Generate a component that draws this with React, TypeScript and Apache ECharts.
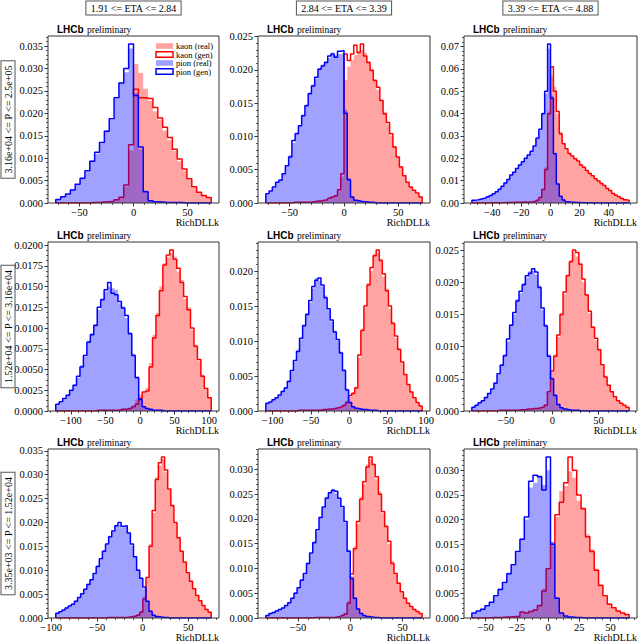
import React, { useEffect, useRef } from "react";
import * as echarts from "echarts";

// ---------- labels ----------
const etaLabels = ["1.91 <= ETA <= 2.84", "2.84 <= ETA <= 3.39", "3.39 <= ETA <= 4.88"];
const pLabels = ["3.16e+04 <= P <= 2.5e+05", "1.52e+04 <= P <= 3.16e+04", "3.35e+03 <= P <= 1.52e+04"];
const legendNames = ["kaon (real)", "kaon (gen)", "pion (real)", "pion (gen)"];
const xAxisTitle = "RichDLLk";

// ---------- histogram bin edges (start, width) ----------
const binStart = [-72, -72, -54, -122, -109, -87, -95, -81, -61];
const binWidth = [4.5, 3, 2, 5, 4, 3.4, 3.4, 3, 3.5];

// ---------- row 1 ----------
const pionGen11 = [0.0008,0.0014,0.0020,0.0029,0.0042,0.0055,0.0072,0.0093,0.0113,0.0135,0.0160,0.0188,0.0235,0.0268,0.0300,0.0355,0.0240,0.0125,0.0025,0.0005,0.0003,0.0002,0.0001,0.0001,0.0001,0.0001,0,0,0,0,0,0];
const pionReal11 = [0.0007,0.0013,0.0019,0.0030,0.0040,0.0054,0.0070,0.0095,0.0110,0.0133,0.0162,0.0185,0.0232,0.0270,0.0292,0.0345,0.0245,0.0120,0.0028,0.0006,0.0003,0.0002,0.0001,0.0001,0.0001,0,0,0,0,0,0,0];
const kaonGen11 = [0,0,0,0,0,0,0,0.0001,0.0001,0.0002,0.0003,0.0004,0.0007,0.0013,0.0040,0.0130,0.0254,0.0235,0.0235,0.0233,0.0213,0.0190,0.0169,0.0146,0.0120,0.0098,0.0076,0.0054,0.0036,0.0024,0.0017,0.0012];
const kaonReal11 = [0,0,0,0,0,0,0,0.0001,0.0001,0.0002,0.0003,0.0004,0.0006,0.0012,0.0036,0.0118,0.0310,0.0290,0.0255,0.0228,0.0205,0.0185,0.0162,0.0140,0.0116,0.0093,0.0072,0.0052,0.0034,0.0023,0.0016,0.0011];

const pionGen12 = [0.0014,0.0018,0.0024,0.0031,0.0034,0.0044,0.0056,0.0069,0.0094,0.0104,0.0116,0.0131,0.0146,0.0164,0.0176,0.0189,0.0201,0.0206,0.0211,0.0221,0.0224,0.0219,0.0228,0.0229,0.0135,0.0035,0.0009,0.0004,0.0003,0.0002,0.0002,0.0001,0.0001,0,0,0,0,0,0,0,0,0,0,0,0,0,0,0];
const pionReal12 = [0.0012,0.0017,0.0023,0.0030,0.0036,0.0045,0.0055,0.0072,0.0090,0.0106,0.0117,0.0133,0.0148,0.0166,0.0178,0.0187,0.0203,0.0208,0.0213,0.0218,0.0226,0.0222,0.0224,0.0225,0.0140,0.0038,0.0010,0.0004,0.0003,0.0002,0.0002,0.0001,0.0001,0,0,0,0,0,0,0,0,0,0,0,0,0,0,0];
const kaonGen12 = [0,0,0,0,0,0,0,0,0.0001,0.0001,0.0001,0.0001,0.0001,0.0001,0.0002,0.0003,0.0003,0.0004,0.0005,0.0007,0.0009,0.0011,0.0020,0.0044,0.0224,0.0214,0.0224,0.0237,0.0226,0.0239,0.0221,0.0211,0.0199,0.0184,0.0174,0.0154,0.0134,0.0121,0.0104,0.0084,0.0069,0.0054,0.0041,0.0031,0.0024,0.0019,0.0015,0.0009];
const kaonReal12 = [0,0,0,0,0,0,0,0,0.0001,0.0001,0.0001,0.0001,0.0001,0.0001,0.0002,0.0003,0.0003,0.0004,0.0005,0.0006,0.0008,0.0011,0.0018,0.0040,0.0185,0.0205,0.0215,0.0222,0.0228,0.0230,0.0226,0.0213,0.0202,0.0186,0.0170,0.0155,0.0137,0.0118,0.0101,0.0086,0.0070,0.0055,0.0042,0.0031,0.0024,0.0018,0.0014,0.0010];

const pionGen13 = [0.0012,0.0014,0.0017,0.0020,0.0023,0.0028,0.0034,0.0041,0.0050,0.0061,0.0075,0.0090,0.0105,0.0125,0.0138,0.0155,0.0170,0.0185,0.0200,0.0215,0.0232,0.0255,0.0290,0.0330,0.0400,0.0500,0.0712,0.0470,0.0220,0.0085,0.0030,0.0013,0.0006,0.0004,0.0003,0.0002,0.0002,0.0001,0.0001,0.0001,0.0001,0,0,0,0,0,0,0,0,0,0,0,0,0];
const pionReal13 = [0.0011,0.0014,0.0016,0.0020,0.0024,0.0028,0.0033,0.0042,0.0049,0.0062,0.0074,0.0091,0.0104,0.0124,0.0140,0.0153,0.0172,0.0184,0.0202,0.0213,0.0234,0.0252,0.0292,0.0325,0.0405,0.0490,0.0690,0.0480,0.0225,0.0088,0.0032,0.0014,0.0007,0.0004,0.0003,0.0002,0.0002,0.0001,0.0001,0.0001,0.0001,0,0,0,0,0,0,0,0,0,0,0,0,0];
const kaonGen13 = [0,0,0,0,0,0,0.0001,0.0001,0.0001,0.0001,0.0001,0.0002,0.0002,0.0002,0.0003,0.0003,0.0003,0.0004,0.0004,0.0005,0.0006,0.0008,0.0012,0.0025,0.0060,0.0150,0.0400,0.0610,0.0500,0.0410,0.0310,0.0265,0.0243,0.0222,0.0210,0.0198,0.0188,0.0170,0.0160,0.0146,0.0132,0.0122,0.0109,0.0098,0.0087,0.0078,0.0065,0.0056,0.0043,0.0035,0.0028,0.0020,0.0015,0.0012];
const kaonReal13 = [0,0,0,0,0,0,0.0001,0.0001,0.0001,0.0001,0.0001,0.0002,0.0002,0.0002,0.0003,0.0003,0.0003,0.0004,0.0004,0.0005,0.0006,0.0008,0.0013,0.0027,0.0065,0.0160,0.0410,0.0570,0.0520,0.0400,0.0320,0.0270,0.0240,0.0225,0.0208,0.0200,0.0185,0.0172,0.0158,0.0147,0.0130,0.0123,0.0107,0.0099,0.0085,0.0079,0.0064,0.0057,0.0042,0.0036,0.0027,0.0021,0.0014,0.0012];

// ---------- row 2 ----------
const pionGen21 = [0.0008,0.0011,0.0015,0.0019,0.0025,0.0031,0.0042,0.0053,0.0067,0.0083,0.0092,0.0103,0.0125,0.0134,0.0146,0.0155,0.0142,0.0140,0.0132,0.0124,0.0115,0.0093,0.0067,0.0040,0.0014,0.0005,0.0003,0.0002,0.0001,0.0001,0.0001,0,0,0,0,0,0,0,0,0,0,0,0,0,0];
const pionReal21 = [0.0007,0.0010,0.0014,0.0020,0.0024,0.0032,0.0040,0.0055,0.0065,0.0085,0.0094,0.0105,0.0122,0.0136,0.0144,0.0150,0.0148,0.0146,0.0130,0.0126,0.0112,0.0095,0.0069,0.0042,0.0016,0.0006,0.0003,0.0002,0.0001,0.0001,0.0001,0,0,0,0,0,0,0,0,0,0,0,0,0,0];
const kaonGen21 = [0,0,0,0,0,0,0,0,0,0,0,0,0.0001,0.0001,0.0001,0.0001,0.0001,0.0001,0.0001,0.0002,0.0002,0.0003,0.0005,0.0008,0.0015,0.0023,0.0024,0.0053,0.0088,0.0115,0.0145,0.0176,0.0188,0.0194,0.0183,0.0172,0.0155,0.0138,0.0122,0.0100,0.0078,0.0062,0.0042,0.0027,0.0016];
const kaonReal21 = [0,0,0,0,0,0,0,0,0,0,0,0,0.0001,0.0001,0.0001,0.0001,0.0001,0.0001,0.0002,0.0002,0.0003,0.0004,0.0007,0.0014,0.0020,0.0022,0.0028,0.0058,0.0092,0.0118,0.0150,0.0178,0.0185,0.0190,0.0186,0.0168,0.0158,0.0135,0.0125,0.0098,0.0080,0.0060,0.0044,0.0026,0.0017];

const pionGen22 = [0.0011,0.0013,0.0016,0.0019,0.0023,0.0028,0.0033,0.0042,0.0058,0.0072,0.0085,0.0104,0.0122,0.0138,0.0158,0.0178,0.0187,0.0190,0.0180,0.0162,0.0146,0.0130,0.0113,0.0102,0.0083,0.0058,0.0030,0.0012,0.0006,0.0004,0.0003,0.0002,0.0002,0.0001,0.0001,0.0001,0,0,0,0,0,0,0,0,0,0,0,0,0,0,0];
const pionReal22 = [0.0010,0.0013,0.0017,0.0020,0.0022,0.0029,0.0034,0.0044,0.0056,0.0070,0.0088,0.0102,0.0124,0.0140,0.0155,0.0175,0.0190,0.0186,0.0178,0.0165,0.0144,0.0128,0.0115,0.0100,0.0085,0.0060,0.0032,0.0013,0.0007,0.0004,0.0003,0.0002,0.0002,0.0001,0.0001,0.0001,0,0,0,0,0,0,0,0,0,0,0,0,0,0,0];
const kaonGen22 = [0,0,0,0,0,0,0,0,0,0,0.0001,0.0001,0.0001,0.0001,0.0001,0.0001,0.0001,0.0001,0.0002,0.0002,0.0003,0.0003,0.0004,0.0005,0.0006,0.0008,0.0012,0.0022,0.0025,0.0033,0.0080,0.0115,0.0150,0.0180,0.0205,0.0222,0.0230,0.0215,0.0196,0.0172,0.0150,0.0125,0.0107,0.0088,0.0070,0.0052,0.0038,0.0027,0.0019,0.0012,0.0007];
const kaonReal22 = [0,0,0,0,0,0,0,0,0,0,0.0001,0.0001,0.0001,0.0001,0.0001,0.0001,0.0001,0.0002,0.0002,0.0002,0.0003,0.0003,0.0004,0.0005,0.0007,0.0009,0.0015,0.0020,0.0027,0.0035,0.0076,0.0118,0.0148,0.0183,0.0200,0.0225,0.0226,0.0218,0.0192,0.0175,0.0146,0.0128,0.0104,0.0090,0.0068,0.0053,0.0037,0.0028,0.0018,0.0012,0.0008];

const pionGen23 = [0.0006,0.0009,0.0013,0.0016,0.0021,0.0027,0.0034,0.0043,0.0058,0.0071,0.0086,0.0112,0.0133,0.0153,0.0171,0.0186,0.0196,0.0210,0.0214,0.0221,0.0216,0.0192,0.0160,0.0132,0.0085,0.0050,0.0024,0.0010,0.0005,0.0003,0.0002,0.0001,0.0001,0.0001,0,0,0,0,0,0,0,0,0,0,0,0,0,0,0,0];
const pionReal23 = [0.0005,0.0009,0.0012,0.0017,0.0020,0.0028,0.0033,0.0045,0.0056,0.0073,0.0088,0.0108,0.0135,0.0150,0.0174,0.0183,0.0199,0.0207,0.0217,0.0218,0.0212,0.0195,0.0157,0.0135,0.0088,0.0052,0.0026,0.0011,0.0005,0.0003,0.0002,0.0001,0.0001,0.0001,0,0,0,0,0,0,0,0,0,0,0,0,0,0,0,0];
const kaonGen23 = [0,0,0,0,0,0,0,0,0.0001,0.0001,0.0001,0.0001,0.0001,0.0001,0.0001,0.0002,0.0002,0.0003,0.0003,0.0004,0.0004,0.0005,0.0006,0.0009,0.0030,0.0062,0.0085,0.0118,0.0150,0.0185,0.0210,0.0232,0.0250,0.0246,0.0228,0.0205,0.0180,0.0155,0.0130,0.0113,0.0095,0.0072,0.0053,0.0040,0.0030,0.0022,0.0016,0.0012,0.0009,0.0006];
const kaonReal23 = [0,0,0,0,0,0,0,0,0.0001,0.0001,0.0001,0.0001,0.0001,0.0001,0.0002,0.0002,0.0002,0.0003,0.0003,0.0004,0.0005,0.0005,0.0007,0.0010,0.0028,0.0060,0.0088,0.0115,0.0152,0.0182,0.0212,0.0235,0.0246,0.0240,0.0230,0.0200,0.0182,0.0152,0.0132,0.0110,0.0096,0.0070,0.0055,0.0039,0.0031,0.0021,0.0017,0.0011,0.0009,0.0006];

// ---------- row 3 ----------
const pionGen31 = [0.0010,0.0013,0.0017,0.0021,0.0025,0.0029,0.0035,0.0043,0.0051,0.0060,0.0070,0.0080,0.0093,0.0108,0.0124,0.0140,0.0155,0.0170,0.0182,0.0193,0.0200,0.0192,0.0193,0.0178,0.0155,0.0128,0.0100,0.0083,0.0065,0.0035,0.0014,0.0006,0.0003,0.0002,0.0001,0.0001,0,0,0,0,0,0,0,0,0,0,0,0,0,0];
const pionReal31 = [0.0009,0.0012,0.0016,0.0022,0.0024,0.0030,0.0036,0.0042,0.0052,0.0061,0.0072,0.0082,0.0091,0.0110,0.0122,0.0142,0.0153,0.0172,0.0180,0.0195,0.0196,0.0190,0.0191,0.0180,0.0152,0.0130,0.0102,0.0085,0.0062,0.0036,0.0015,0.0007,0.0003,0.0002,0.0001,0.0001,0,0,0,0,0,0,0,0,0,0,0,0,0,0];
const kaonGen31 = [0,0,0,0,0,0,0,0,0,0,0,0,0,0,0,0,0.0001,0.0001,0.0001,0.0001,0.0001,0.0001,0.0001,0.0002,0.0003,0.0004,0.0006,0.0012,0.0040,0.0085,0.0150,0.0225,0.0290,0.0325,0.0337,0.0310,0.0270,0.0235,0.0200,0.0168,0.0140,0.0117,0.0095,0.0077,0.0061,0.0047,0.0036,0.0026,0.0018,0.0012];
const kaonReal31 = [0,0,0,0,0,0,0,0,0,0,0,0,0,0,0,0,0.0001,0.0001,0.0001,0.0001,0.0001,0.0001,0.0001,0.0002,0.0003,0.0005,0.0008,0.0015,0.0045,0.0082,0.0155,0.0220,0.0295,0.0320,0.0333,0.0305,0.0268,0.0238,0.0198,0.0170,0.0138,0.0118,0.0093,0.0078,0.0060,0.0048,0.0035,0.0027,0.0017,0.0012];

const pionGen32 = [0.0005,0.0009,0.0011,0.0014,0.0017,0.0020,0.0025,0.0031,0.0040,0.0050,0.0061,0.0076,0.0090,0.0110,0.0131,0.0152,0.0178,0.0203,0.0224,0.0242,0.0253,0.0258,0.0256,0.0242,0.0225,0.0195,0.0135,0.0080,0.0040,0.0018,0.0009,0.0005,0.0003,0.0002,0.0001,0.0001,0,0,0,0,0,0,0,0,0,0,0,0,0,0];
const pionReal32 = [0.0004,0.0008,0.0011,0.0015,0.0016,0.0021,0.0024,0.0032,0.0039,0.0052,0.0060,0.0078,0.0088,0.0112,0.0129,0.0155,0.0175,0.0205,0.0222,0.0245,0.0255,0.0260,0.0252,0.0240,0.0222,0.0192,0.0138,0.0082,0.0042,0.0019,0.0010,0.0005,0.0003,0.0002,0.0001,0.0001,0,0,0,0,0,0,0,0,0,0,0,0,0,0];
const kaonGen32 = [0,0,0,0,0,0,0,0,0,0,0,0,0,0,0,0.0001,0.0001,0.0001,0.0001,0.0001,0.0001,0.0001,0.0002,0.0003,0.0005,0.0008,0.0030,0.0089,0.0140,0.0195,0.0240,0.0275,0.0305,0.0325,0.0310,0.0285,0.0250,0.0215,0.0185,0.0155,0.0110,0.0090,0.0070,0.0053,0.0040,0.0030,0.0023,0.0017,0.0013,0.0009];
const kaonReal32 = [0,0,0,0,0,0,0,0,0,0,0,0,0,0,0,0.0001,0.0001,0.0001,0.0001,0.0001,0.0001,0.0001,0.0002,0.0004,0.0006,0.0010,0.0035,0.0085,0.0145,0.0190,0.0245,0.0270,0.0310,0.0320,0.0312,0.0280,0.0255,0.0212,0.0188,0.0150,0.0115,0.0088,0.0072,0.0051,0.0041,0.0029,0.0024,0.0016,0.0013,0.0009];

const pionGen33 = [0.0010,0.0014,0.0018,0.0025,0.0032,0.0045,0.0058,0.0072,0.0090,0.0108,0.0135,0.0160,0.0205,0.0278,0.0290,0.0287,0.0260,0.0327,0.0150,0.0040,0.0010,0.0004,0.0002,0.0001,0.0001,0,0,0,0,0,0,0,0,0,0,0];
const pionReal33 = [0.0009,0.0013,0.0019,0.0024,0.0033,0.0043,0.0060,0.0070,0.0092,0.0106,0.0133,0.0162,0.0200,0.0265,0.0275,0.0290,0.0270,0.0300,0.0155,0.0042,0.0011,0.0004,0.0002,0.0001,0.0001,0,0,0,0,0,0,0,0,0,0,0];
const kaonGen33 = [0,0,0,0,0.0001,0.0001,0.0001,0.0002,0.0002,0.0003,0.0003,0.0012,0.0010,0.0013,0.0016,0.0025,0.0055,0.0100,0.0150,0.0210,0.0235,0.0275,0.0327,0.0300,0.0250,0.0222,0.0165,0.0135,0.0097,0.0066,0.0045,0.0028,0.0021,0.0014,0.0010,0.0007];
const kaonReal33 = [0,0,0,0,0.0001,0.0001,0.0002,0.0002,0.0003,0.0003,0.0004,0.0010,0.0011,0.0012,0.0018,0.0028,0.0060,0.0098,0.0148,0.0205,0.0258,0.0268,0.0298,0.0285,0.0238,0.0225,0.0170,0.0140,0.0100,0.0068,0.0043,0.0030,0.0020,0.0015,0.0010,0.0007];

const kaonRealAll = [kaonReal11, kaonReal12, kaonReal13, kaonReal21, kaonReal22, kaonReal23, kaonReal31, kaonReal32, kaonReal33];
const kaonGenAll = [kaonGen11, kaonGen12, kaonGen13, kaonGen21, kaonGen22, kaonGen23, kaonGen31, kaonGen32, kaonGen33];
const pionRealAll = [pionReal11, pionReal12, pionReal13, pionReal21, pionReal22, pionReal23, pionReal31, pionReal32, pionReal33];
const pionGenAll = [pionGen11, pionGen12, pionGen13, pionGen21, pionGen22, pionGen23, pionGen31, pionGen32, pionGen33];

// axis tick steps per panel
const xMajor = [50, 50, 20, 50, 50, 50, 50, 50, 25];
const yMajor = [0.005, 0.005, 0.01, 0.0025, 0.005, 0.005, 0.005, 0.005, 0.005];
const yDecimals = [3, 3, 2, 4, 3, 3, 3, 3, 3];

// ---------- layout ----------
const colLeft = [48, 258, 464];
const colWidth = [171, 172, 173];
const rowTop = [36, 242, 449];
const rowHeight = [167, 169, 169];

const SERIF = '"Liberation Serif", "Times New Roman", serif';
const KAON_FILL = "rgba(255,0,0,0.36)";
const PION_FILL = "rgba(0,0,255,0.37)";

function minorDivs(step: number) {
  const m = step / Math.pow(10, Math.floor(Math.log10(step) + 1e-9));
  const r = Math.round(m * 100) / 100;
  return r === 1 || r === 5 || r === 10 ? 5 : 4;
}

function multiples(lo: number, hi: number, step: number) {
  const out: number[] = [];
  const k0 = Math.ceil(lo / step - 1e-9);
  for (let k = k0; k * step <= hi + step * 1e-9; k++) out.push(parseFloat((k * step).toFixed(10)));
  return out;
}

function stepPoints(start: number, width: number, vals: number[]) {
  const pts: number[][] = [[start, 0]];
  vals.forEach((v, i) => pts.push([start + i * width, v]));
  const end = start + vals.length * width;
  pts.push([end, vals[vals.length - 1]]);
  pts.push([end, 0]);
  return pts;
}

function fmtX(v: number) {
  return v < 0 ? "\u2212" + Math.abs(v) : String(v);
}

function buildOption() {
  const grid: any[] = [];
  const xAxis: any[] = [];
  const yAxis: any[] = [];
  const series: any[] = [];
  const graphic: any[] = [];

  for (let p = 0; p < 9; p++) {
    const r = Math.floor(p / 3);
    const c = p % 3;
    const left = colLeft[c];
    const top = rowTop[r];
    const w = colWidth[c];
    const h = rowHeight[r];
    grid.push({ left, top, width: w, height: h, containLabel: false, show: false });

    const n = kaonGenAll[p].length;
    const lo = binStart[p];
    const hi = binStart[p] + binWidth[p] * n;
    const xmin = lo - 0.05 * (hi - lo);
    const xmax = hi + 0.05 * (hi - lo);
    const all = [...kaonRealAll[p], ...kaonGenAll[p], ...pionRealAll[p], ...pionGenAll[p]];
    const ymax = 1.05 * Math.max(...all);

    const xm = xMajor[p];
    const ym = yMajor[p];
    const xMaj = multiples(xmin, xmax, xm);
    const xMin = multiples(xmin, xmax, xm / minorDivs(xm));
    const yMaj = multiples(0, ymax, ym);
    const yMin = multiples(0, ymax, ym / minorDivs(ym));
    const dec = yDecimals[p];

    const hiddenLine = { show: false, onZero: false };
    const xi = xAxis.length;
    xAxis.push({
      type: "value", gridIndex: p, min: xmin, max: xmax, position: "bottom",
      axisLine: hiddenLine, splitLine: { show: false },
      axisTick: { show: true, customValues: xMaj, length: 3.5, lineStyle: { color: "#333", width: 1 } },
      axisLabel: { show: true, customValues: xMaj, margin: 3.5, color: "#000", fontSize: 10.5, fontFamily: SERIF, formatter: (v: number) => fmtX(v) },
    });
    xAxis.push({
      type: "value", gridIndex: p, min: xmin, max: xmax, position: "bottom",
      axisLine: hiddenLine, splitLine: { show: false },
      axisTick: { show: true, customValues: xMin, length: 2, lineStyle: { color: "#333", width: 0.8 } },
      axisLabel: { show: false },
    });
    const yi = yAxis.length;
    yAxis.push({
      type: "value", gridIndex: p, min: 0, max: ymax, position: "left",
      axisLine: hiddenLine, splitLine: { show: false },
      axisTick: { show: true, customValues: yMaj, length: 3.5, lineStyle: { color: "#333", width: 1 } },
      axisLabel: { show: true, customValues: yMaj, margin: 5, color: "#000", fontSize: 10.5, fontFamily: SERIF, formatter: (v: number) => v.toFixed(dec) },
    });
    yAxis.push({
      type: "value", gridIndex: p, min: 0, max: ymax, position: "left",
      axisLine: hiddenLine, splitLine: { show: false },
      axisTick: { show: true, customValues: yMin, length: 2, lineStyle: { color: "#333", width: 0.8 } },
      axisLabel: { show: false },
    });

    const common = { type: "line", step: "end", xAxisIndex: xi, yAxisIndex: yi, showSymbol: false, symbol: "none", silent: true, clip: true };
    series.push({ ...common, name: legendNames[0], data: stepPoints(lo, binWidth[p], kaonRealAll[p]), lineStyle: { width: 0, opacity: 0 }, areaStyle: { color: KAON_FILL, opacity: 1 }, z: 1 });
    series.push({ ...common, name: legendNames[1], data: stepPoints(lo, binWidth[p], kaonGenAll[p]), lineStyle: { color: "#ff0000", width: 1.5 }, z: 2 });
    series.push({ ...common, name: legendNames[2], data: stepPoints(lo, binWidth[p], pionRealAll[p]), lineStyle: { width: 0, opacity: 0 }, areaStyle: { color: PION_FILL, opacity: 1 }, z: 3 });
    series.push({ ...common, name: legendNames[3], data: stepPoints(lo, binWidth[p], pionGenAll[p]), lineStyle: { color: "#0000ff", width: 1.5 }, z: 4 });

    // frame
    graphic.push({
      type: "rect", z: 100, silent: true,
      shape: { x: left, y: top, width: w, height: h },
      style: { fill: "none", stroke: "#333", lineWidth: 1 },
    });
    // LHCb preliminary
    graphic.push({
      type: "text", z: 100, silent: true, x: left + 9, y: top - 6.5,
      style: {
        text: "{a|LHCb} {b|preliminary}",
        align: "left", verticalAlign: "middle",
        rich: {
          a: { fontFamily: '"Liberation Sans", Arial, sans-serif', fontWeight: "bold", fontSize: 10, fill: "#000" },
          b: { fontFamily: SERIF, fontSize: 9.5, fill: "#000" },
        },
      },
    });
    // x-axis title
    graphic.push({
      type: "text", z: 100, silent: true, x: left + w, y: top + h + 19,
      style: { text: xAxisTitle, align: "right", verticalAlign: "middle", font: '10px ' + SERIF, fill: "#000" },
    });
  }

  // column titles
  for (let c = 0; c < 3; c++) {
    graphic.push({
      type: "text", z: 100, silent: true, x: colLeft[c] + colWidth[c] / 2, y: 8,
      style: {
        text: etaLabels[c], align: "center", verticalAlign: "middle", font: '10px ' + SERIF, fill: "#000",
        borderColor: "#555", borderWidth: 1, padding: [2, 4, 1, 4], backgroundColor: "#fff",
      },
    });
  }
  // row titles
  for (let r = 0; r < 3; r++) {
    graphic.push({
      type: "text", z: 100, silent: true, x: 8, y: rowTop[r] + rowHeight[r] / 2, rotation: Math.PI / 2,
      style: {
        text: pLabels[r], align: "center", verticalAlign: "middle", font: '10px ' + SERIF, fill: "#000",
        borderColor: "#555", borderWidth: 1, padding: [2, 4, 1, 4], backgroundColor: "#fff",
      },
    });
  }

  // legend (first panel)
  const legX = 156;
  const legY = [46, 54.5, 63, 71.5];
  const swatchStyles = [
    { fill: KAON_FILL, stroke: "none", lineWidth: 0 },
    { fill: "#fff", stroke: "#ff0000", lineWidth: 1.5 },
    { fill: PION_FILL, stroke: "none", lineWidth: 0 },
    { fill: "#fff", stroke: "#0000ff", lineWidth: 1.5 },
  ];
  legendNames.forEach((name, i) => {
    graphic.push({
      type: "rect", z: 110, silent: true,
      shape: { x: legX, y: legY[i] - 2.8, width: 17, height: 5.6 },
      style: swatchStyles[i],
    });
    graphic.push({
      type: "text", z: 110, silent: true, x: legX + 20, y: legY[i],
      style: { text: name, align: "left", verticalAlign: "middle", font: '8.5px ' + SERIF, lineHeight: 8.5, fill: "#000" },
    });
  });

  return { animation: false, backgroundColor: "#fff", grid, xAxis, yAxis, series, graphic };
}

export default function App() {
  const ref = useRef<HTMLDivElement>(null);
  useEffect(() => {
    if (!ref.current) return;
    const chart = echarts.init(ref.current, undefined, { renderer: "svg" });
    chart.setOption(buildOption() as any);
    return () => chart.dispose();
  }, []);
  return <div ref={ref} style={{ position: "absolute", left: 0, top: 0, width: 640, height: 642 }} />;
}
